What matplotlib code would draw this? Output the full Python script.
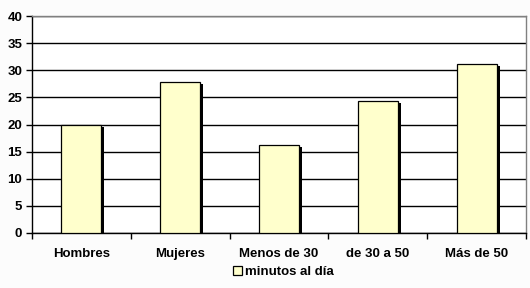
import numpy as np
import matplotlib
matplotlib.use('Agg')
import matplotlib.pyplot as plt

categories = ['Hombres', 'Mujeres', 'Menos de 30', 'de 30 a 50', 'Más de 50']
minutos = [19.9, 27.8, 16.2, 24.3, 31.1]
series_label = 'minutos al día'

plt.rcParams['font.family'] = ['Liberation Sans', 'DejaVu Sans']
plt.rcParams['font.weight'] = 'bold'
plt.rcParams['font.size'] = 9.5

fig = plt.figure(figsize=(5.3, 2.88), dpi=100, facecolor='#fcfcfc')
ax = fig.add_axes([0.0604, 0.191, 0.932, 0.753])
ax.set_facecolor('white')

x = np.arange(len(categories))
width = 0.405

# shadow behind each bar
ax.bar(x + 0.03, np.array(minutos) - 0.37, width=width, bottom=0,
       color='black', linewidth=0, zorder=2)
bars = ax.bar(x, minutos, width=width, color='#ffffcc', edgecolor='black',
              linewidth=0.9, zorder=3, label=series_label)

ax.set_xlim(-0.5, len(categories) - 0.5)
ax.set_ylim(0, 40)
ax.set_yticks(range(0, 41, 5))
ax.yaxis.grid(True, color='black', linewidth=1.0, zorder=0)
ax.set_axisbelow(True)

ax.set_xticks(np.arange(-0.5, len(categories), 1.0))
ax.set_xticklabels([])
ax.set_xticks(x, minor=True)
ax.set_xticklabels(categories, minor=True)
ax.tick_params(axis='x', which='minor', length=0, pad=11)
ax.tick_params(axis='x', which='major', length=4, width=1, color='black')
ax.tick_params(axis='y', length=4, width=1, pad=3)

ax.spines['left'].set_color('black')
ax.spines['bottom'].set_color('black')
ax.spines['top'].set_color('#808080')
ax.spines['right'].set_color('#808080')
for s in ax.spines.values():
    s.set_linewidth(1.0)

fig.legend(handles=[bars], labels=[series_label], loc='center',
           bbox_to_anchor=(0.535, 0.055), frameon=False, handlelength=0.7,
           handleheight=0.7, handletextpad=0.25, fontsize=9.5)

fig.savefig('out.png', dpi=100, facecolor=fig.get_facecolor())
